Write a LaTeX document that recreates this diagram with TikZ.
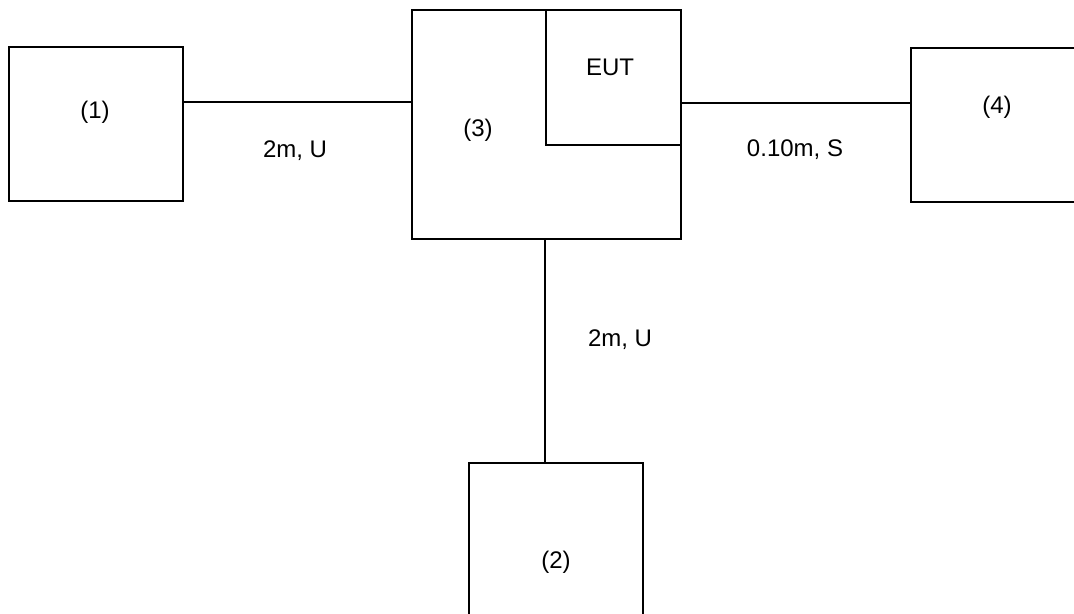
\documentclass[tikz,border=0pt]{standalone}
\usepackage{fontspec}
\setmainfont{Liberation Sans}
\begin{document}
\begin{tikzpicture}[x=0.5pt,y=-0.5pt,
  box/.style={draw,line width=1pt,rectangle,inner sep=0pt,anchor=north west},
  lab/.style={inner sep=0pt,anchor=base,font=\fontsize{12}{14}\selectfont},
  wire/.style={line width=1pt}]
\clip (0,0) rectangle (1074,614);
\useasboundingbox (0,0) rectangle (1074,614);
% boxes (anchored at top-left corner, size in px)
\node[box,minimum width=174*0.5pt,minimum height=154*0.5pt] (b1) at (8,46) {};
\node[box,minimum width=269*0.5pt,minimum height=229*0.5pt] (b3) at (411,9) {};
\node[box,minimum width=135*0.5pt,minimum height=135*0.5pt] (eut) at (545,9) {};
\node[box,minimum width=200*0.5pt,minimum height=154*0.5pt] (b4) at (910,47) {};
\node[box,minimum width=174*0.5pt,minimum height=200*0.5pt] (b2) at (468,462) {};
% labels
\node[lab] (t1) at (95,118.5) {(1)};
\node[lab] (t3) at (478,137) {(3)};
\node[lab] (teut) at (610,76) {EUT};
\node[lab] (t4) at (997,114) {(4)};
\node[lab] (t2) at (556,568) {(2)};
\node[lab] (c1) at (295,158) {2m, U};
\node[lab] (c2) at (795,157) {0.10m, S};
\node[lab] (c3) at (620,346) {2m, U};
% connectors
\draw[wire] (b1.east |- 0,102) -- (b3.west |- 0,102);
\draw[wire] (eut.east |- 0,103) -- (b4.west |- 0,103);
\draw[wire] (b3.south -| eut.west) -- (b2.north -| eut.west);
\end{tikzpicture}
\end{document}
